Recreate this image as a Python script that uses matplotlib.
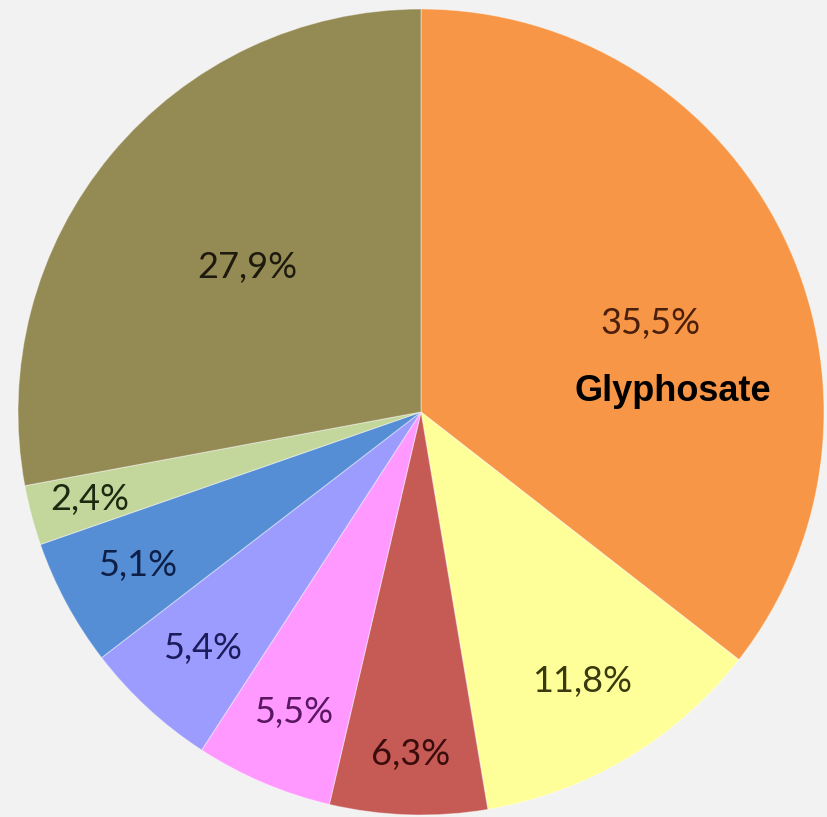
import numpy as np
import matplotlib
matplotlib.use("Agg")
import matplotlib.pyplot as plt

values = [35.5, 11.8, 6.3, 5.5, 5.4, 5.1, 2.4, 27.9]
labels = ['35,5%', '11,8%', '6,3%', '5,5%', '5,4%', '5,1%', '2,4%', '27,9%']
colors = ['#F79646', '#FFFF99', '#C65A55', '#FF99FF', '#9C9CFF', '#558ED5', '#C3D69B', '#948A54']
text_colors = ['#4a1f0c', '#3a3a10', '#3a0c0c', '#5a1660', '#1c1c5c', '#0f2048', '#1c2a10', '#1e1a0e']
# radial distance and angular shift (deg) of each label
label_r = [0.61, 0.78, 0.85, 0.81, 0.80, 0.80, 0.85, 0.56]
label_da = [-5, 0, 0, 0, 0, 0, 0, 0]

fig = plt.figure(figsize=(8.27, 8.17), dpi=100)
fig.patch.set_facecolor('#f2f2f2')
ax = fig.add_axes([18/827, 2/817, 806/827, 806/817])
ax.set_facecolor('none')

wedges, _ = ax.pie(values, colors=colors, startangle=90, counterclock=False,
                   wedgeprops=dict(edgecolor=(1, 1, 1, 0.4), linewidth=0.8))
ax.set_xlim(-1, 1)
ax.set_ylim(-1, 1)
ax.set_aspect('auto')
ax.axis('off')

for w, lab, c, r, da in zip(wedges, labels, text_colors, label_r, label_da):
	a = np.deg2rad((w.theta1 + w.theta2) / 2 + da)
	ax.text(r * np.cos(a), r * np.sin(a), lab, color=c, fontsize=26,
	        family=['Lato', 'DejaVu Sans'], ha='center', va='center')

ax.text(0.625, 0.05, 'Glyphosate', fontsize=26, fontweight='bold',
        family=['Liberation Sans', 'DejaVu Sans'], ha='center', va='center', color='black')

plt.savefig('out.png', dpi=100, facecolor=fig.get_facecolor())
